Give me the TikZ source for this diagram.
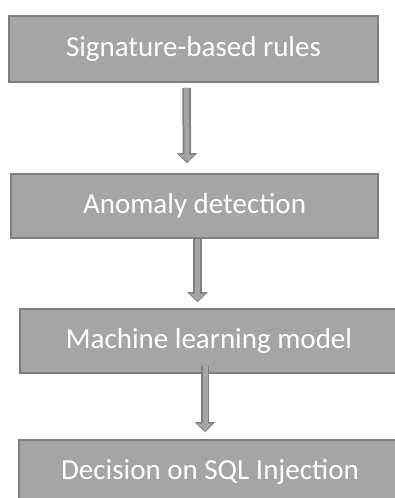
\documentclass[tikz,border=0pt]{standalone}
\usepackage{fontspec}
\setmainfont{Carlito}
\usetikzlibrary{arrows.meta}
\definecolor{boxfill}{HTML}{A5A5A5}
\definecolor{boxline}{HTML}{7F7F7F}
\begin{document}
\begin{tikzpicture}[x=1pt, y=1pt,
  stage/.style={draw=boxline, line width=1.6pt, fill=boxfill, text=white, inner sep=0pt,
    font=\fontsize{29}{34}\selectfont},
  flow/.style={draw=boxfill, line width=5pt, shorten >=1.6pt, -{Triangle[width=15pt,length=7pt]},
    preaction={draw=boxline, line width=8.5pt, shorten >=0pt, -{Triangle[width=20pt,length=10pt]}}}]
\clip (0,0) rectangle (395,-498);
\node[stage, minimum width=369pt, minimum height=66pt] (sig) at (193.5,-49) {Signature-based rules};
\node[stage, minimum width=367pt, minimum height=64pt] (ano) at (194.5,-206) {Anomaly detection};
\node[stage, minimum width=378pt, minimum height=64pt] (ml) at (209,-341) {Machine learning model};
\node[stage, minimum width=382pt, minimum height=64pt] (dec) at (210,-472) {Decision on SQL Injection};
\draw[flow] ([xshift=-7pt, yshift=-5pt]sig.south) -- ([xshift=-7.5pt, yshift=10pt]ano.north);
\draw[flow] ([xshift=3pt]ano.south) -- ([xshift=-11.5pt, yshift=6pt]ml.north);
\draw[flow] ([xshift=-4pt, yshift=8pt]ml.south) -- ([xshift=-5pt, yshift=7pt]dec.north);
\end{tikzpicture}
\end{document}
